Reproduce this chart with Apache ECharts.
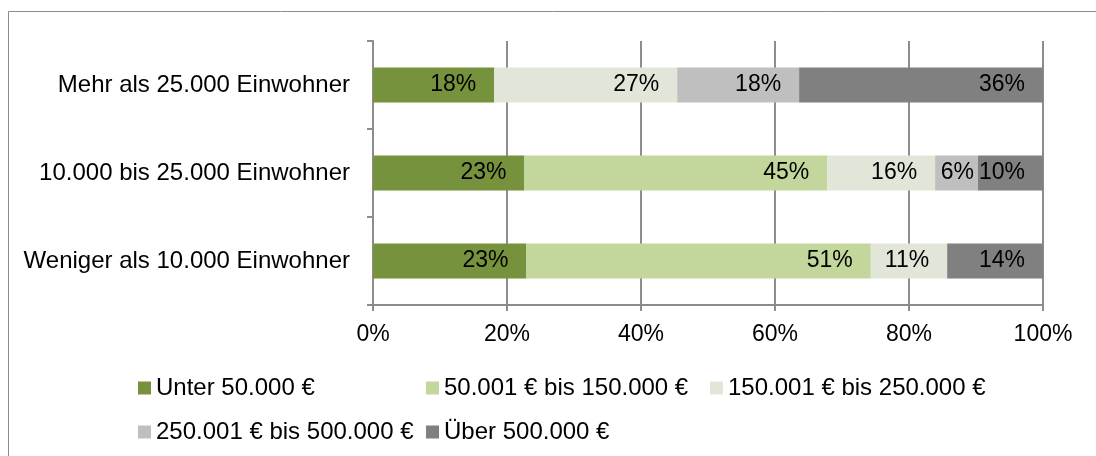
<!DOCTYPE html>
<html>
<head>
<meta charset="utf-8">
<script src="https://cdn.jsdelivr.net/npm/echarts@6.0.0/dist/echarts.min.js"></script>
<style>
  html, body { margin: 0; padding: 0; background: #fff; }
  #main { width: 1096px; height: 456px; }
</style>
</head>
<body>
<div id="main"></div>
<script>
// Kategorien (von oben nach unten)
var categories = ['Mehr als 25.000 Einwohner', '10.000 bis 25.000 Einwohner', 'Weniger als 10.000 Einwohner'];
var seriesNames = ['Unter 50.000 €', '50.001 € bis 150.000 €', '150.001 € bis 250.000 €', '250.001 € bis 500.000 €', 'Über 500.000 €'];

// Anteile in % je Kategorie
var unter50 = [18.1, 22.6, 22.9];
var bis150 = [0, 45.2, 51.4];
var bis250 = [27.3, 16.1, 11.4];
var bis500 = [18.2, 6.4, 0];
var ueber500 = [36.4, 9.7, 14.3];

var xTicks = [0, 20, 40, 60, 80, 100];

var values = [unter50, bis150, bis250, bis500, ueber500];
var colors = ['#76923c', '#c3d69b', '#e1e6d8', '#bfbfbf', '#808080'];
var font = "'Liberation Sans', Arial, sans-serif";
var gray = '#8c8c8c';

// Legende wie bei Excel in Spalten
var legendPos = [[138, 376], [426, 376], [710, 376], [138, 420], [426, 420]];

var myChart = echarts.init(document.getElementById('main'));

var option = {
  animation: false,
  textStyle: { fontFamily: font },
  graphic: [
    {
      type: 'rect',
      shape: { x: 8.5, y: 11.5, width: 1200, height: 600 },
      style: { fill: 'none', stroke: gray, lineWidth: 1 },
      silent: true
    }
  ],
  grid: {
    left: 373,
    right: 53,
    top: 41,
    bottom: 151
  },
  legend: seriesNames.map(function (name, i) {
    return {
      data: [name],
      left: legendPos[i][0],
      top: legendPos[i][1],
      padding: 0,
      icon: 'rect',
      itemWidth: 13,
      itemHeight: 13,
      textStyle: { fontSize: 24, color: '#000', fontFamily: font }
    };
  }),
  xAxis: {
    type: 'value',
    min: xTicks[0],
    max: xTicks[xTicks.length - 1],
    interval: 20,
    axisLine: { show: true, lineStyle: { color: gray, width: 2 } },
    axisTick: { show: true, length: 6, lineStyle: { color: gray, width: 2 } },
    axisLabel: {
      margin: 18,
      fontSize: 23,
      color: '#000',
      fontFamily: font,
      formatter: function (v) { return v + '%'; }
    },
    splitLine: { show: true, lineStyle: { color: gray, width: 2 } }
  },
  yAxis: {
    type: 'category',
    inverse: true,
    data: categories,
    axisLine: { show: true, lineStyle: { color: gray, width: 2 } },
    axisTick: { show: true, length: 6, lineStyle: { color: gray, width: 2 } },
    axisLabel: {
      margin: 23,
      fontSize: 24,
      color: '#000',
      fontFamily: font
    }
  },
  series: seriesNames.map(function (name, i) {
    return {
      name: name,
      type: 'bar',
      stack: 'total',
      barWidth: 35,
      itemStyle: { color: colors[i] },
      label: {
        show: true,
        position: 'insideRight',
        distance: 18,
        fontSize: 23,
        color: '#000',
        fontFamily: font,
        formatter: function (p) {
          return p.value ? Math.round(p.value) + '%' : '';
        }
      },
      data: values[i].map(function (v) {
        // schmale Segmente: Beschriftung näher an den Rand
        return v > 0 && v < 8 ? { value: v, label: { distance: 4 } } : v;
      })
    };
  })
};

myChart.setOption(option);
</script>
</body>
</html>
